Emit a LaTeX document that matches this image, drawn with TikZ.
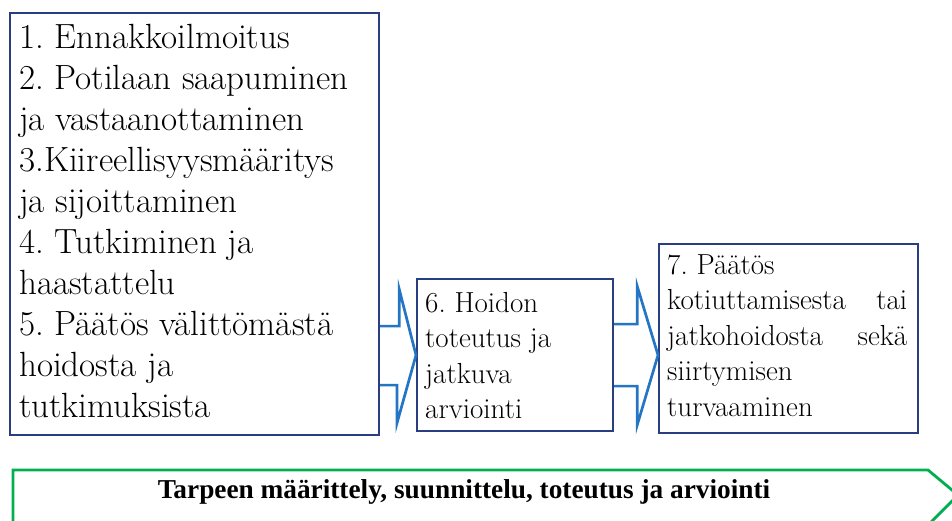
\documentclass[tikz,border=0pt]{standalone}
\usepackage{fontspec}
\newfontfamily\tnrb{Liberation Serif Bold}
\usetikzlibrary{calc}
\definecolor{navy}{RGB}{40,62,128}
\definecolor{arrowblue}{RGB}{36,118,196}
\definecolor{flowgreen}{RGB}{0,176,80}
\begin{document}
\begin{tikzpicture}[x=1pt,y=-1pt,
  box/.style={draw=navy, line width=2.2pt, fill=white, inner sep=0pt, anchor=north west},
  txt/.style={anchor=north west, inner sep=0pt, align=left},
  bigtxt/.style={txt, font=\fontsize{35}{41}\selectfont\frenchspacing},
  smalltxt/.style={txt, font=\fontsize{29}{35.5}\selectfont\frenchspacing},
  blockarrow/.style={draw=arrowblue, line width=2.7pt, line join=miter},
  greenarrow/.style={draw=flowgreen, line width=2.8pt, line join=miter}]
\useasboundingbox (0,0) rectangle (952,520);
\clip (0,0) rectangle (952,520);
% bottom process arrow
\coordinate (g0) at (13,545);
\draw[greenarrow] (g0) -- (13,470) -- (928,470) -- (958,495) -- (928,525) -- (13,525) -- cycle;
% boxes
\node[box, minimum width=369pt, minimum height=422pt] (b1) at (9,12) {};
\node[box, minimum width=196pt, minimum height=152pt] (b6) at (416,278) {};
\node[box, minimum width=259pt, minimum height=189pt] (b7) at (658,243) {};
% block arrows
\draw[blockarrow] ($(b1.east |- b6.west)+(0,-29)$) -- ++(19,0) -- ++(0,-37)
  -- (b6.west) -- ($(b6.west)+(-19,68)$) -- ++(0,-38) -- ($(b1.east |- b6.west)+(0,30)$);
\draw[blockarrow] ($(b6.east)+(0,-31)$) -- ++(23,0) -- ++(0,-38)
  -- (b7.west |- b6.east) -- ($(b6.east)+(23,70)$) -- ++(0,-39) -- ($(b6.east)+(0,31)$);
% texts
\node[bigtxt] (t1) at (19,24) {1. Ennakkoilmoitus\\2. Potilaan saapuminen\\ja vastaanottaminen\\3.Kiireellisyysmääritys\\ja sijoittaminen\\4. Tutkiminen ja\\haastattelu\\5. Päätös välittömästä\\hoidosta ja\\tutkimuksista};
\node[smalltxt] (t6) at (425,292) {6. Hoidon\\toteutus ja\\jatkuva\\arviointi};
\node[smalltxt] (t7) at (667,254) {7. Päätös\\\makebox[240pt][s]{kotiuttamisesta tai}\\\makebox[240pt][s]{jatkohoidosta sekä}\\siirtymisen\\turvaaminen};
\node[anchor=base, inner sep=0pt, font=\tnrb\fontsize{27.3}{30}\selectfont\frenchspacing] (tg) at (464,498) {Tarpeen määrittely, suunnittelu, toteutus ja arviointi};
\end{tikzpicture}
\end{document}
